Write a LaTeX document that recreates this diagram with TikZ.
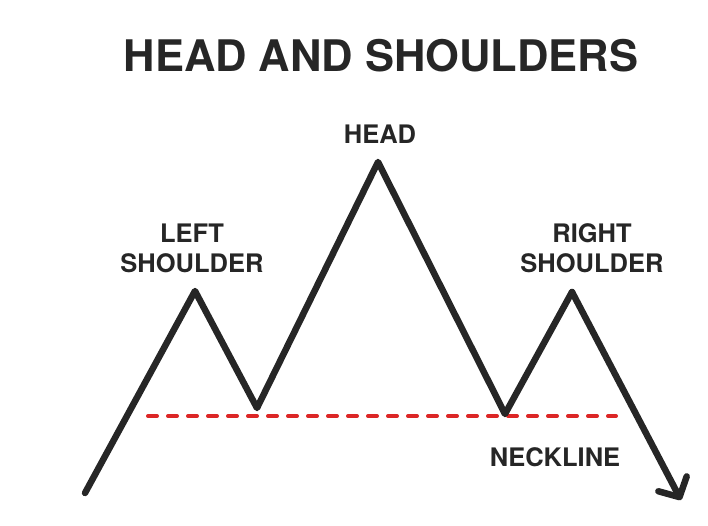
\documentclass[tikz,border=0pt]{standalone}
\usepackage{fontspec}
\setmainfont{TeX Gyre Heros}
\usetikzlibrary{arrows.meta,positioning}
\definecolor{necklinered}{RGB}{220,38,38}

\begin{document}
\begin{tikzpicture}[
    x=1pt, y=-1pt,
    every node/.style={font=\bfseries, text=black!85},
    titletext/.style={font=\fontsize{43.5}{48}\selectfont\bfseries},
    peaklabel/.style={font=\fontsize{25.5}{30}\selectfont\bfseries, align=center},
    pricepath/.style={line width=6.5pt, black!85, line join=round, line cap=round},
    necklinestyle/.style={line width=4pt, necklinered, dash pattern=on 9pt off 11pt, line cap=round},
    endarr/.style={-{Straight Barb[length=15pt, width=32pt, round]}}
  ]
    \useasboundingbox (0,0) rectangle (708,526);

    % Price points
    \coordinate (start) at (85,493);
    \coordinate (lsh) at (195,291);
    \coordinate (tr1) at (257,408);
    \coordinate (head) at (378,162);
    \coordinate (tr2) at (505,414);
    \coordinate (rsh) at (572,292);
    \coordinate (finish) at (681,500);

    % Neckline ends
    \coordinate (nl1) at (148,416);
    \coordinate (nl2) at (616,416);

    \node[titletext] (title) at (381,56) {HEAD AND SHOULDERS};

    \node[peaklabel] (headlbl) at (380,134) {HEAD};
    \node[peaklabel] (leftlbl) at (192,248) {LEFT\\SHOULDER};
    \node[peaklabel] (rightlbl) at (592,248) {RIGHT\\SHOULDER};
    \node[peaklabel] (necklbl) at (555,457) {NECKLINE};

    % Neckline
    \draw[necklinestyle] (nl1) -- (nl2);

    % Price path
    \draw[pricepath] (start) -- (lsh) -- (tr1) -- (head) -- (tr2) -- (rsh);
    \draw[pricepath, endarr] (rsh) -- (finish);
\end{tikzpicture}
\end{document}
